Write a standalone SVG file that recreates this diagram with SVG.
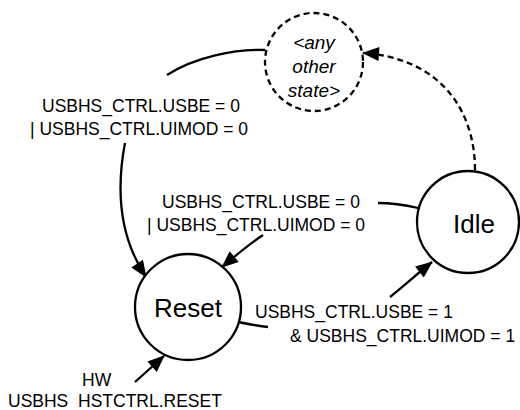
<svg xmlns="http://www.w3.org/2000/svg" width="520" height="410" viewBox="0 0 520 410">
<style>
.st{fill:#fff;stroke:#000;stroke-width:2.3}
.dash{stroke-dasharray:6 4}
.c{fill:none;stroke:#000;stroke-width:2.3}
.lbl{font-family:"Liberation Sans",Arial,sans-serif;font-size:17.5px;fill:#000}
.nm{font-family:"Liberation Sans",Arial,sans-serif;font-size:26px;fill:#000;text-anchor:middle}
.it{font-family:"Liberation Sans",Arial,sans-serif;font-size:19px;font-style:italic;fill:#000;text-anchor:middle}
</style>
<defs>
<marker id="ah" markerUnits="userSpaceOnUse" markerWidth="18" markerHeight="15" refX="16" refY="7" orient="auto" overflow="visible">
<path d="M0,0 L17,7 L0,14 z" fill="#000"/>
</marker>
</defs>
<rect width="520" height="410" fill="#fff"/>
<g id="connectors">
<path class="c" d="M265,50 C235,49 195,57 167,75"/>
<path class="c" d="M125,143 C117,185 118,235 146,277" marker-end="url(#ah)"/>
<path class="c" d="M418,208 C405,205 390,203 378,203"/>
<path class="c" d="M263,235 C248,245 235,256 222,267" marker-end="url(#ah)"/>
<path class="c" d="M238,322 C248,324 258,326 268,327"/>
<path class="c" d="M390,297 C405,285 418,273 432,262" marker-end="url(#ah)"/>
<path class="c dash" d="M475,170 C475,110 440,58 363,53" marker-end="url(#ah)"/>
<path class="c" d="M135,382 L164,356" marker-end="url(#ah)"/>
</g>
<g id="other">
<circle class="st dash" cx="314" cy="62" r="49"/>
<text class="it" x="314" y="49">&lt;any</text>
<text class="it" x="314" y="73">other</text>
<text class="it" x="314" y="97">state&gt;</text>
</g>
<g id="idle">
<circle class="st" cx="468" cy="222" r="51"/>
<text class="nm" x="474" y="233">Idle</text>
</g>
<g id="reset">
<circle class="st" cx="188" cy="307" r="53"/>
<text class="nm" x="188" y="317">Reset</text>
</g>
<g id="labels">
<text class="lbl" x="42" y="112">USBHS_CTRL.USBE = 0</text>
<text class="lbl" x="30" y="135">| USBHS_CTRL.UIMOD = 0</text>
<text class="lbl" x="162" y="208">USBHS_CTRL.USBE = 0</text>
<text class="lbl" x="147" y="231">| USBHS_CTRL.UIMOD = 0</text>
<text class="lbl" x="255" y="318">USBHS_CTRL.USBE = 1</text>
<text class="lbl" x="290" y="342">&amp; USBHS_CTRL.UIMOD = 1</text>
<text class="lbl" x="82" y="386">HW</text>
<text class="lbl" x="8" y="407">USBHS <tspan x="78">HSTCTRL.RESET</tspan></text>
</g>
</svg>
